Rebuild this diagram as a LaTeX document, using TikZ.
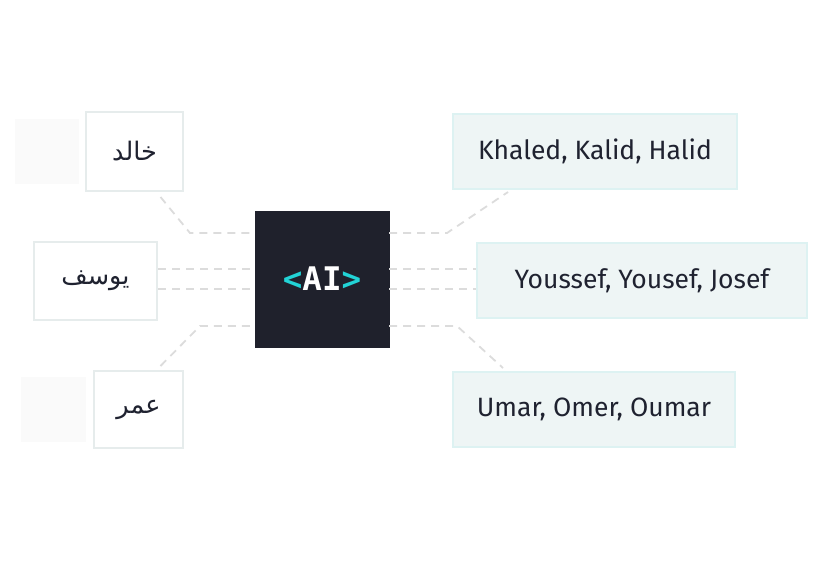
\documentclass[tikz,border=0pt]{standalone}
\usepackage{fontspec}
\setmainfont{Fira Sans}
\newfontfamily\arabicfont[Script=Arabic]{DejaVu Sans}
\newfontfamily\monofont{DejaVu Sans Mono}
\TeXXeTstate=1
\definecolor{darkbg}{HTML}{1F212C}
\definecolor{aicyan}{HTML}{22D3D6}
\definecolor{txt}{HTML}{1F2230}
\definecolor{lborder}{HTML}{E6ECEC}
\definecolor{rfill}{HTML}{EEF5F5}
\definecolor{rborder}{HTML}{DDF2F2}
\definecolor{ghost}{HTML}{FAFAFA}
\definecolor{dashc}{HTML}{DCDCDC}
\tikzset{
  lbox/.style={draw=lborder, fill=white, line width=2pt, inner sep=0pt, text=txt, font=\arabicfont\fontsize{25.5}{30}\selectfont},
  rbox/.style={draw=rborder, fill=rfill, line width=2pt, inner sep=0pt, minimum height=75pt, text=txt, font=\fontsize{26.5}{31}\selectfont},
  ghostbox/.style={fill=ghost, inner sep=0pt},
  conn/.style={draw=dashc, line width=1.8pt, dash pattern=on 8pt off 6pt},
}
\begin{document}
\begin{tikzpicture}[x=1pt,y=-1pt]
\useasboundingbox (0,0) rectangle (840,560);
% ghost boxes
\node[ghostbox, minimum width=64pt, minimum height=65pt] (g1) at (47,151.5) {};
\node[ghostbox, minimum width=65pt, minimum height=65pt] (g3) at (53.5,409.5) {};
% bend points of connectors
\coordinate (kl1) at (190,233);
\coordinate (kl3) at (200,326);
\coordinate (kr1) at (447,233);
\coordinate (kr3) at (457,326);
% left boxes
\node[lbox, minimum width=97pt, minimum height=79pt] (b1) at (134.5,151.5) {\beginR خالد\endR};
\node[lbox, minimum width=123pt, minimum height=78pt] (b2) at (95.5,281) {\beginR يوسف\endR};
\node[lbox, minimum width=89pt, minimum height=77pt] (b3) at (138.5,409.5) {\beginR عمر\endR};
% center
\node[fill=darkbg, draw=darkbg, minimum width=134pt, minimum height=136pt, inner sep=0pt,
      font=\monofont\bfseries\fontsize{32.5}{36}\selectfont] (ai) at (322,279)
      {\textcolor{aicyan}{<}\textcolor{white}{AI}\textcolor{aicyan}{>}};
% right boxes
\node[rbox, minimum width=284pt] (r1) at (595,151.5) {Khaled, Kalid, Halid};
\node[rbox, minimum width=330pt] (r2) at (642,280.5) {Youssef, Yousef, Josef};
\node[rbox, minimum width=282pt] (r3) at (594,409.5) {Umar, Omer, Oumar};
% connectors
\draw[conn] ([xshift=26pt,yshift=-5pt]b1.south) -- (kl1) -- (kl1 -| ai.west);
\draw[conn] ([yshift=12pt]b2.east) -- ([yshift=12pt]b2.east -| ai.west);
\draw[conn] ([yshift=-8pt]b2.east) -- ([yshift=-8pt]b2.east -| ai.west);
\draw[conn] ([xshift=22pt,yshift=4pt]b3.north) -- (kl3) -- (kl3 -| ai.west);
\draw[conn] (kr1 -| ai.east) -- (kr1) -- ([xshift=-87pt,yshift=-2pt]r1.south);
\draw[conn] ([yshift=11.5pt]r2.west -| ai.east) -- ([yshift=11.5pt]r2.west);
\draw[conn] ([yshift=-8.5pt]r2.west -| ai.east) -- ([yshift=-8.5pt]r2.west);
\draw[conn] (kr3 -| ai.east) -- (kr3) -- ([xshift=-91pt,yshift=3pt]r3.north);
\end{tikzpicture}
\end{document}
